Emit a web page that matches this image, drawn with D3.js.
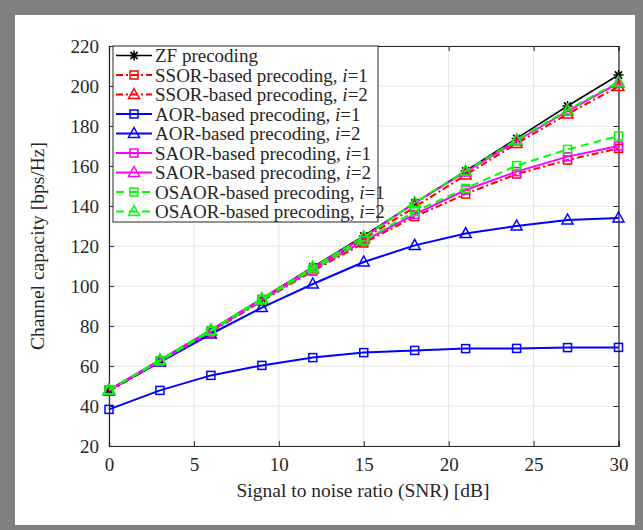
<!DOCTYPE html>
<html>
<head>
<meta charset="utf-8">
<script src="https://cdn.jsdelivr.net/npm/d3@7"></script>
<style>
  body { margin: 0; background: #808080; }
  svg { display: block; }
  text { font-family: "Liberation Serif", "Times New Roman", serif; fill: #262626; }
</style>
</head>
<body>
<div id="chart"></div>
<script>
// SNR points [dB]
const snr = [0, 3, 6, 9, 12, 15, 18, 21, 24, 27, 30];

// channel capacity [bps/Hz]
const zf     = [48, 63, 78, 93.8, 109.5, 125, 141.5, 157.5, 173.8, 190, 205.5];
const ssor1  = [47.5, 62, 77, 92.5, 107.5, 121.5, 134.7, 146, 156, 163, 168.8];
const ssor2  = [47.5, 62.5, 77.5, 93, 108.5, 123.5, 139.5, 155.5, 171.3, 186, 199.7];
const aor1   = [38.3, 47.8, 55.3, 60.3, 64.2, 66.7, 67.8, 68.7, 68.8, 69.2, 69.3];
const aor2   = [48, 62, 76, 89.2, 101, 112, 120.3, 126.2, 130, 133, 134];
const saor1  = [48, 62.3, 77.3, 93, 108, 122.5, 135.8, 148, 157.2, 164.7, 170];
const saor2  = [48, 63, 78, 93.5, 109.2, 124.3, 141.5, 157, 172.5, 187.5, 201.5];
const osaor1 = [48, 62.5, 77.5, 93, 108.3, 122.8, 137.2, 148.8, 160.2, 168.3, 175];
const osaor2 = [48, 63, 78, 93.6, 109.3, 124.5, 141.7, 157.5, 173, 188, 202];

const xTicks = [0, 5, 10, 15, 20, 25, 30];
const yTicks = [20, 40, 60, 80, 100, 120, 140, 160, 180, 200, 220];

const series = [
  { name: "ZF precoding", it: null, values: zf, color: "#000000", dash: null, marker: "star" },
  { name: "SSOR-based precoding, ", it: "1", values: ssor1, color: "#ff0000", dash: "7,3,2,3", marker: "square" },
  { name: "SSOR-based precoding, ", it: "2", values: ssor2, color: "#ff0000", dash: "7,3,2,3", marker: "triangle" },
  { name: "AOR-based precoding, ", it: "1", values: aor1, color: "#0000ff", dash: null, marker: "square" },
  { name: "AOR-based precoding, ", it: "2", values: aor2, color: "#0000ff", dash: null, marker: "triangle" },
  { name: "SAOR-based precoding, ", it: "1", values: saor1, color: "#ff00ff", dash: null, marker: "square" },
  { name: "SAOR-based precoding, ", it: "2", values: saor2, color: "#ff00ff", dash: null, marker: "triangle" },
  { name: "OSAOR-based precoding, ", it: "1", values: osaor1, color: "#00ff00", dash: "8,5", marker: "square" },
  { name: "OSAOR-based precoding, ", it: "2", values: osaor2, color: "#00ff00", dash: "8,5", marker: "triangle" }
];

const W = 643, H = 530;
const margin = { top: 46, right: 25, bottom: 84, left: 109 };
const width = 618.5 - margin.left,
      height = 446 - margin.top;

const svg = d3.select("#chart").append("svg")
  .attr("width", W).attr("height", H);

// gray frame with white page
svg.append("rect").attr("width", W).attr("height", H).attr("fill", "#808080");
svg.append("rect").attr("x", 15).attr("y", 15).attr("width", 620).attr("height", 510).attr("fill", "#ffffff");

const g = svg.append("g").attr("transform", `translate(${margin.left},${margin.top})`);

const x = d3.scaleLinear().domain([0, 30]).range([0, width]);
const y = d3.scaleLinear().domain([20, 220]).range([height, 0]);

// grid
g.append("g").selectAll("line").data(xTicks).enter().append("line")
  .attr("x1", d => x(d)).attr("x2", d => x(d))
  .attr("y1", 0).attr("y2", height)
  .attr("stroke", "#e3e3e3").attr("stroke-width", 1);
g.append("g").selectAll("line").data(yTicks).enter().append("line")
  .attr("x1", 0).attr("x2", width)
  .attr("y1", d => y(d)).attr("y2", d => y(d))
  .attr("stroke", "#e3e3e3").attr("stroke-width", 1);

// axes (ticks inward)
const xAxis = g.append("g").attr("transform", `translate(0,${height})`)
  .call(d3.axisBottom(x).tickValues(xTicks).tickSize(-5).tickPadding(12));
const yAxis = g.append("g")
  .call(d3.axisLeft(y).tickValues(yTicks).tickSize(-5).tickPadding(10));
const xTop = g.append("g")
  .call(d3.axisTop(x).tickValues(xTicks).tickSize(-5).tickFormat(""));
const yRight = g.append("g").attr("transform", `translate(${width},0)`)
  .call(d3.axisRight(y).tickValues(yTicks).tickSize(-5).tickFormat(""));

[xAxis, yAxis, xTop, yRight].forEach(a => {
  a.select(".domain").attr("stroke", "#262626").attr("stroke-width", 1.2);
  a.selectAll(".tick line").attr("stroke", "#262626");
  a.selectAll(".tick text").style("font-size", "19px").attr("fill", "#262626")
    .style("font-family", "Liberation Serif, serif");
});

// axis labels
svg.append("text")
  .attr("x", 363).attr("y", 497)
  .attr("text-anchor", "middle")
  .style("font-size", "19.5px")
  .text("Signal to noise ratio (SNR) [dB]");
svg.append("text")
  .attr("transform", "translate(44,246) rotate(-90)")
  .attr("text-anchor", "middle")
  .style("font-size", "19.5px")
  .text("Channel capacity [bps/Hz]");

// marker drawing
function drawMarker(sel, type, color) {
  if (type === "square") {
    sel.append("rect")
      .attr("x", -4).attr("y", -4).attr("width", 8).attr("height", 8)
      .attr("fill", "none").attr("stroke", color).attr("stroke-width", 1.5);
  } else if (type === "triangle") {
    sel.append("path")
      .attr("d", "M0,-6 L5.5,4 L-5.5,4 Z")
      .attr("fill", "none").attr("stroke", color).attr("stroke-width", 1.5);
  } else {
    sel.append("path")
      .attr("d", "M-5,0 L5,0 M0,-5 L0,5 M-3.6,-3.6 L3.6,3.6 M-3.6,3.6 L3.6,-3.6")
      .attr("fill", "none").attr("stroke", color).attr("stroke-width", 1.5);
  }
}

const line = d3.line()
  .x((d, i) => x(snr[i]))
  .y(d => y(d));

series.forEach(s => {
  g.append("path")
    .datum(s.values)
    .attr("d", line)
    .attr("fill", "none")
    .attr("stroke", s.color)
    .attr("stroke-width", s.marker === "star" ? 1.5 : 2)
    .attr("stroke-dasharray", s.dash);

  g.append("g").selectAll("g").data(s.values).enter().append("g")
    .attr("transform", (d, i) => `translate(${x(snr[i])},${y(d)})`)
    .each(function () { drawMarker(d3.select(this), s.marker, s.color); });
});

// legend
const legend = svg.append("g").attr("transform", "translate(113,46)");
legend.append("rect")
  .attr("width", 265).attr("height", 176)
  .attr("fill", "#ffffff").attr("stroke", "#262626").attr("stroke-width", 1);

const rows = legend.selectAll(".row").data(series).enter().append("g")
  .attr("class", "row")
  .attr("transform", (d, i) => `translate(0,${9.5 + i * 19.5})`);

rows.append("line")
  .attr("x1", 3).attr("x2", 39)
  .attr("stroke", d => d.color)
  .attr("stroke-width", d => d.marker === "star" ? 1.5 : 2)
  .attr("stroke-dasharray", d => d.dash);
rows.each(function (d) {
  const m = d3.select(this).append("g").attr("transform", "translate(21,0)");
  drawMarker(m, d.marker, d.color);
});

const labels = rows.append("text")
  .attr("x", 42).attr("y", 6.5)
  .style("font-size", "19px");
labels.append("tspan").text(d => d.name);
labels.filter(d => d.it).append("tspan").style("font-style", "italic").text("i");
labels.filter(d => d.it).append("tspan").text(d => "=" + d.it);
</script>
</body>
</html>
